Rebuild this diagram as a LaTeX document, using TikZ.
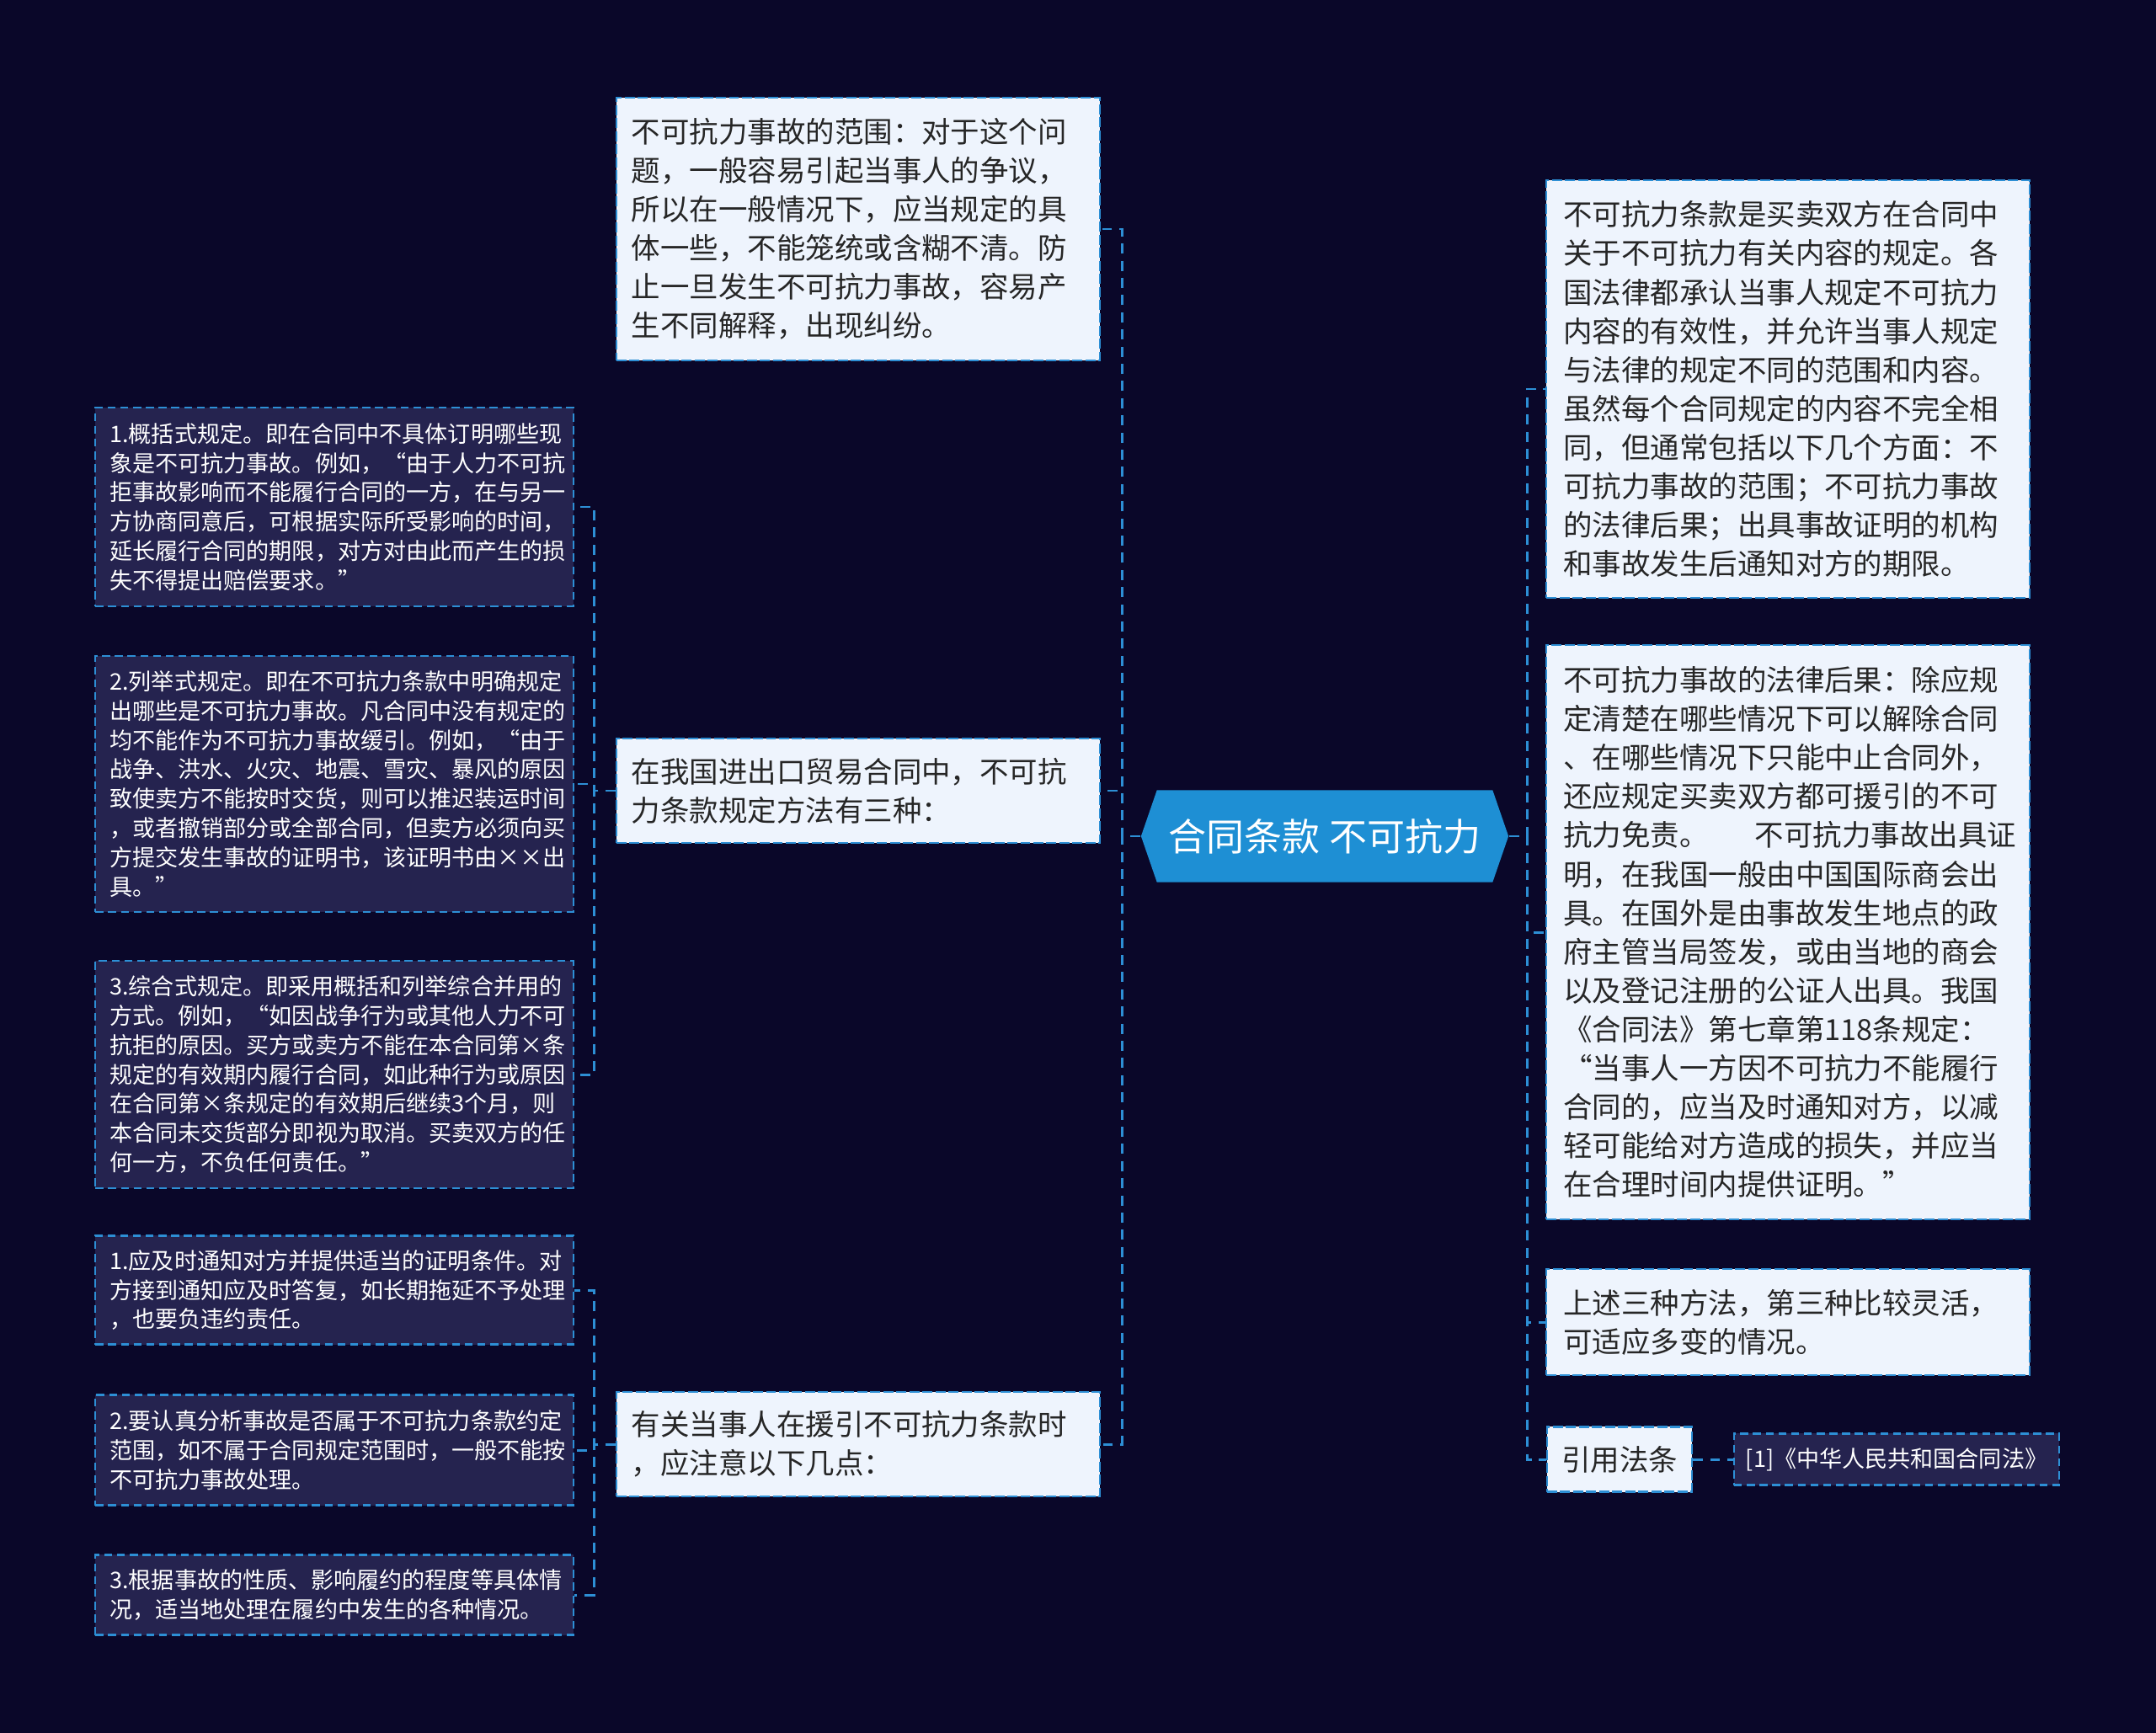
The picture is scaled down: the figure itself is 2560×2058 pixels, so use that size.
\documentclass[tikz,border=0pt]{standalone}
\usepackage{fontspec}
\newfontfamily\cjk{Noto Sans CJK SC}
\usetikzlibrary{shapes.symbols}
\definecolor{night}{HTML}{0A0729}
\definecolor{panel}{HTML}{25234F}
\definecolor{paper}{HTML}{EEF4FD}
\definecolor{ink}{HTML}{262626}
\definecolor{wire}{HTML}{2D8FD5}
\definecolor{core}{HTML}{1E8FD4}

\tikzset{
  link/.style={draw=wire,line width=0.85pt,dash pattern=on 3.4pt off 2.4pt},
  lightbox/.style={draw=wire,line width=0.6pt,dash pattern=on 3.4pt off 1pt,fill=paper,text=ink,
    align=left,inner xsep=0.18cm,inner ysep=0pt,text width=5.38cm,
    font=\cjk\fontsize{9.8pt}{13.1pt}\selectfont},
  sidebox/.style={lightbox,inner xsep=0.20cm,text width=5.33cm},
  detailbox/.style={draw=wire,line width=0.6pt,dash pattern=on 2.7pt off 1.6pt,fill=panel,text=white,
    align=left,inner xsep=0.17cm,inner ysep=0pt,text width=5.33cm,
    font=\cjk\fontsize{7.7pt}{9.9pt}\selectfont},
  rootbox/.style={signal,signal to=west and east,signal pointer angle=142,fill=core,text=white,
    minimum width=4.36cm,minimum height=1.09cm,inner sep=0pt,font=\cjk\fontsize{12.8pt}{15pt}\selectfont}
}

\begin{document}
\begin{tikzpicture}[x=0.01cm,y=-0.01cm]
\fill[night] (0,0) rectangle (2560,2058);

\node[rootbox] (root) at (1573,993) {合同条款 不可抗力};

% left branch
\node[lightbox,minimum height=3.12cm] (scope) at (1019,272) {不可抗力事故的范围：对于这个问\\题，一般容易引起当事人的争议，\\所以在一般情况下，应当规定的具\\体一些，不能笼统或含糊不清。防\\止一旦发生不可抗力事故，容易产\\生不同解释，出现纠纷。};
\node[lightbox,minimum height=1.24cm] (ways) at (1019,939) {在我国进出口贸易合同中，不可抗\\力条款规定方法有三种：};
\node[lightbox,minimum height=1.24cm] (notes) at (1019,1715) {有关当事人在援引不可抗力条款时\\，应注意以下几点：};

\node[detailbox,minimum height=2.35cm] (way1) at (397,602) {1.概括式规定。即在合同中不具体订明哪些现\\象是不可抗力事故。例如，“由于人力不可抗\\拒事故影响而不能履行合同的一方，在与另一\\方协商同意后，可根据实际所受影响的时间，\\延长履行合同的期限，对方对由此而产生的损\\失不得提出赔偿要求。”};
\node[detailbox,minimum height=3.04cm] (way2) at (397,931) {2.列举式规定。即在不可抗力条款中明确规定\\出哪些是不可抗力事故。凡合同中没有规定的\\均不能作为不可抗力事故缓引。例如，“由于\\战争、洪水、火灾、地震、雪灾、暴风的原因\\致使卖方不能按时交货，则可以推迟装运时间\\，或者撤销部分或全部合同，但卖方必须向买\\方提交发生事故的证明书，该证明书由××出\\具。”};
\node[detailbox,minimum height=2.70cm] (way3) at (397,1276) {3.综合式规定。即采用概括和列举综合并用的\\方式。例如，“如因战争行为或其他人力不可\\抗拒的原因。买方或卖方不能在本合同第×条\\规定的有效期内履行合同，如此种行为或原因\\在合同第×条规定的有效期后继续3个月，则\\本合同未交货部分即视为取消。买卖双方的任\\何一方，不负任何责任。”};

\node[detailbox,minimum height=1.29cm] (note1) at (397,1532) {1.应及时通知对方并提供适当的证明条件。对\\方接到通知应及时答复，如长期拖延不予处理\\，也要负违约责任。};
\node[detailbox,minimum height=1.31cm] (note2) at (397,1722) {2.要认真分析事故是否属于不可抗力条款约定\\范围，如不属于合同规定范围时，一般不能按\\不可抗力事故处理。};
\node[detailbox,minimum height=0.95cm] (note3) at (397,1894) {3.根据事故的性质、影响履约的程度等具体情\\况，适当地处理在履约中发生的各种情况。};

% right branch
\node[sidebox,minimum height=4.96cm] (intro) at (2123,462) {不可抗力条款是买卖双方在合同中\\关于不可抗力有关内容的规定。各\\国法律都承认当事人规定不可抗力\\内容的有效性，并允许当事人规定\\与法律的规定不同的范围和内容。\\虽然每个合同规定的内容不完全相\\同，但通常包括以下几个方面：不\\可抗力事故的范围；不可抗力事故\\的法律后果；出具事故证明的机构\\和事故发生后通知对方的期限。};
\node[sidebox,minimum height=6.81cm] (result) at (2123,1107) {不可抗力事故的法律后果：除应规\\定清楚在哪些情况下可以解除合同\\、在哪些情况下只能中止合同外，\\还应规定买卖双方都可援引的不可\\\mbox{抗力免责。\kern1.6em 不可抗力事故出具证}\\明，在我国一般由中国国际商会出\\具。在国外是由事故发生地点的政\\府主管当局签发，或由当地的商会\\以及登记注册的公证人出具。我国\\《合同法》第七章第118条规定：\\“当事人一方因不可抗力不能履行\\合同的，应当及时通知对方，以减\\轻可能给对方造成的损失，并应当\\在合理时间内提供证明。”};
\node[sidebox,minimum height=1.26cm] (third) at (2123,1570) {上述三种方法，第三种比较灵活，\\可适应多变的情况。};
\node[lightbox,text width=,align=center,inner xsep=0pt,minimum width=1.72cm,minimum height=0.77cm] (cite) at (1923,1733) {引用法条};
\node[detailbox,text width=,align=center,inner xsep=0pt,minimum width=3.86cm,minimum height=0.61cm] (law) at (2252,1733) {[1]《中华人民共和国合同法》};

\coordinate (lt) at (1332,993);
\coordinate (rt) at (1813,993);
\coordinate (dt) at (705,939);
\coordinate (et) at (705,1715);

\foreach \n in {scope,ways,notes}
  \draw[link] (root.west) -- (lt) |- (\n.east);
\foreach \n in {intro,result,third,cite}
  \draw[link] (root.east) -- (rt) |- (\n.west);
\foreach \n in {way1,way2,way3}
  \draw[link] (ways.west) -- (dt) |- (\n.east);
\foreach \n in {note1,note2,note3}
  \draw[link] (notes.west) -- (et) |- (\n.east);
\draw[link] (cite) -- (law);
\end{tikzpicture}
\end{document}
